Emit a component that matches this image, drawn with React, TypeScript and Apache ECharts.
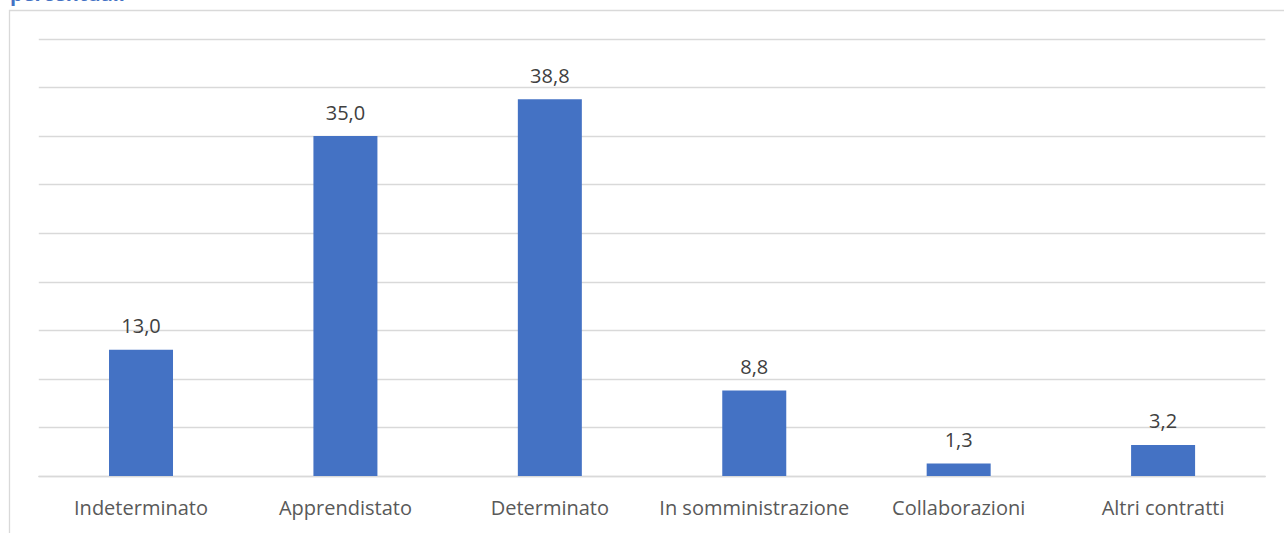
import React, { useEffect, useRef } from "react";
import * as echarts from "echarts";

const categories = [
  "Indeterminato",
  "Apprendistato",
  "Determinato",
  "In somministrazione",
  "Collaborazioni",
  "Altri contratti",
];
const values = [13.0, 35.0, 38.8, 8.8, 1.3, 3.2];
const titleText = "percentuali";

export default function App() {
  const ref = useRef<HTMLDivElement>(null);
  useEffect(() => {
    document.body.style.margin = "0";
    const chart = echarts.init(ref.current!, null, { renderer: "svg" });
    chart.setOption({
      animation: false,
      backgroundColor: "#ffffff",
      textStyle: { fontFamily: "Open Sans" },
      grid: { left: 38.8, right: 18.7, top: 39, bottom: 57 },
      xAxis: {
        type: "category",
        data: categories,
        axisTick: { show: false },
        axisLine: { show: true, lineStyle: { color: "#d9d9d9", width: 1.3 } },
        axisLabel: {
          color: "#595959",
          fontSize: 20,
          fontFamily: "Open Sans",
          margin: 21,
          interval: 0,
        },
      },
      yAxis: {
        type: "value",
        min: 0,
        max: 45,
        interval: 5,
        axisLabel: { show: false },
        axisLine: { show: false },
        axisTick: { show: false },
        splitLine: { lineStyle: { color: "#d9d9d9", width: 1.3 } },
      },
      series: [
        {
          type: "bar",
          data: values,
          barWidth: 64,
          itemStyle: { color: "#4472C4" },
          label: {
            show: true,
            position: "top",
            distance: 14,
            color: "#404040",
            fontSize: 20,
            fontFamily: "Open Sans",
            formatter: (p: any) => Number(p.value).toFixed(1).replace(".", ","),
          },
        },
      ],
      graphic: [
        {
          type: "rect",
          shape: { x: 9.5, y: 10.5, width: 1400, height: 700 },
          style: { fill: "none", stroke: "#d9d9d9", lineWidth: 1.3 },
          silent: true,
        },
        {
          type: "text",
          left: 10,
          top: -17,
          style: {
            text: titleText,
            fill: "#4472C4",
            font: "bold 20px 'Open Sans'",
          },
        },
      ],
    });
    return () => chart.dispose();
  }, []);
  return <div ref={ref} style={{ width: 1284, height: 533 }} />;
}
